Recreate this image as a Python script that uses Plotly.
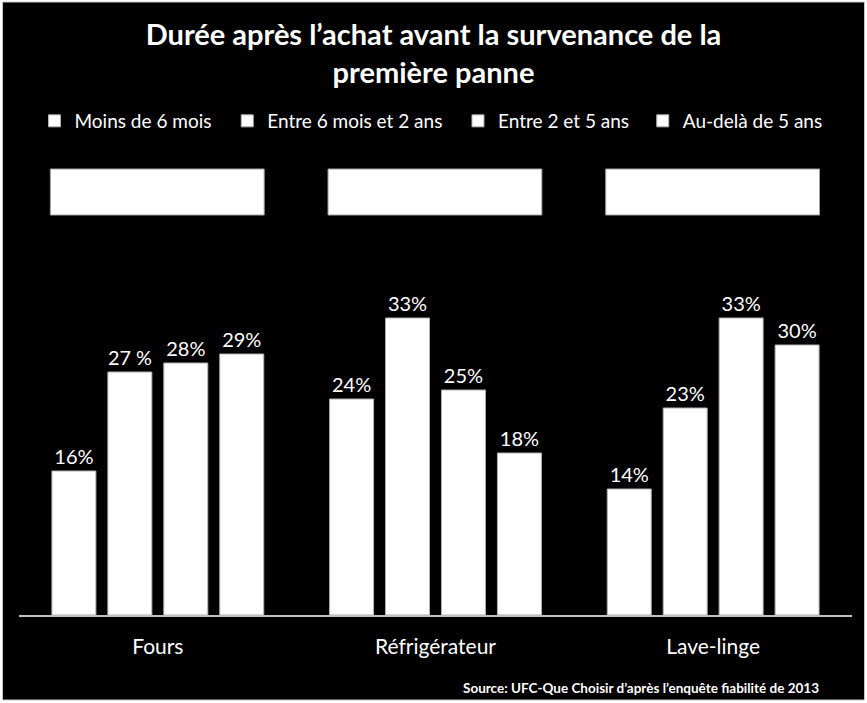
import plotly.graph_objects as go

categories = ["Fours", "Réfrigérateur", "Lave-linge"]
series_names = ["Moins de 6 mois", "Entre 6 mois et 2 ans", "Entre 2 et 5 ans", "Au-delà de 5 ans"]
moins_6_mois = [16, 24, 14]
entre_6m_2ans = [27, 33, 23]
entre_2_5ans = [28, 25, 33]
au_dela_5ans = [29, 18, 30]
labels_moins_6_mois = ["16%", "24%", "14%"]
labels_entre_6m_2ans = ["27 %", "33%", "23%"]
labels_entre_2_5ans = ["28%", "25%", "33%"]
labels_au_dela_5ans = ["29%", "18%", "30%"]

values = [moins_6_mois, entre_6m_2ans, entre_2_5ans, au_dela_5ans]
labels = [labels_moins_6_mois, labels_entre_6m_2ans, labels_entre_2_5ans, labels_au_dela_5ans]

FONT = "Lato"

W, H = 867, 703
ml, mr, mt, mb = 18.5, 14.5, 255, 88
pw, ph = W - ml - mr, H - mt - mb

def px_to_paper_x(px):
    return (px - ml) / pw

def px_to_paper_y(py):
    return (H - mb - py) / ph

legend_ids = ["legend", "legend2", "legend3", "legend4"]
legend_left_px = [34, 227, 458, 643]

fig = go.Figure()
for name, vals, labs, lid in zip(series_names, values, labels, legend_ids):
    fig.add_trace(go.Bar(
        x=categories, y=vals, name=name, text=labs, legend=lid, showlegend=True,
        textposition="outside", cliponaxis=False,
        textfont=dict(color="white", size=20, family=FONT),
        marker=dict(color="white", line=dict(color="#b0b0b0", width=1)),
    ))

shapes = [
    dict(type="rect", xref="paper", yref="paper", layer="below",
         x0=px_to_paper_x(2), x1=px_to_paper_x(865),
         y0=px_to_paper_y(700), y1=px_to_paper_y(2),
         fillcolor="black", line=dict(color="#c8c8c8", width=1)),
]
for i in range(len(categories)):
    shapes.append(dict(type="rect", xref="x", yref="paper",
                       x0=i - 0.387, x1=i + 0.383,
                       y0=px_to_paper_y(215), y1=px_to_paper_y(169),
                       fillcolor="white", line=dict(color="#a0a0a0", width=1)))

legend_layouts = {}
for lid, lx in zip(legend_ids, legend_left_px):
    legend_layouts[lid] = dict(
        orientation="h", x=px_to_paper_x(lx), xanchor="left",
        y=px_to_paper_y(121), yanchor="middle",
        font=dict(family=FONT, size=19, color="white"),
        bgcolor="rgba(0,0,0,0)", borderwidth=0, itemclick=False)

fig.update_layout(
    width=W, height=H,
    showlegend=True,
    margin=dict(l=ml, r=mr, t=mt, b=mb, pad=0),
    paper_bgcolor="white", plot_bgcolor="rgba(0,0,0,0)",
    barmode="group", bargap=0.194, bargroupgap=0.214,
    title=dict(text="<b>Durée après l’achat avant la survenance de la<br>première panne</b>",
               x=0.5, xanchor="center", y=1 - 45 / H, yanchor="middle",
               font=dict(family=FONT, size=29, color="white")),
    xaxis=dict(showline=True, linecolor="#bfbfbf", linewidth=2,
               ticks="outside", ticklen=12, tickcolor="rgba(0,0,0,0)",
               tickfont=dict(family=FONT, size=21, color="white"),
               showgrid=False, zeroline=False),
    yaxis=dict(range=[0, 40], visible=False, showgrid=False, zeroline=False),
    shapes=shapes,
    annotations=[dict(text="<b>Source: UFC-Que Choisir d’après l’enquête fiabilité de 2013</b>",
                      xref="paper", yref="paper", x=px_to_paper_x(821), y=px_to_paper_y(688),
                      xanchor="right", yanchor="middle", showarrow=False,
                      font=dict(family=FONT, size=13.5, color="white"))],
    **legend_layouts,
)

fig.write_html("out.html")
